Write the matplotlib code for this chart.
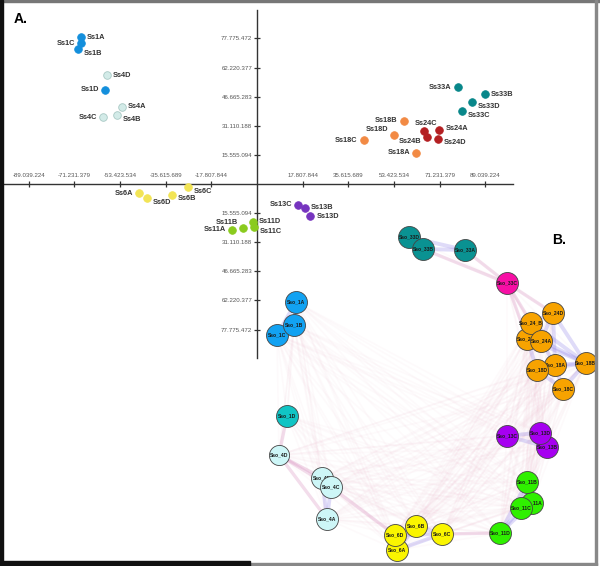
import numpy as np
import matplotlib
matplotlib.use("Agg")
import matplotlib.pyplot as plt
from matplotlib.patches import Rectangle

plt.rcParams['font.family'] = ['Liberation Sans', 'DejaVu Sans']

# ---------------- panel A : ordination scores ----------------
samples = ["Ss1A", "Ss1C", "Ss1B", "Ss1D",
           "Ss4D", "Ss4A", "Ss4B", "Ss4C",
           "Ss6A", "Ss6D", "Ss6B", "Ss6C",
           "Ss11A", "Ss11B", "Ss11D", "Ss11C",
           "Ss13C", "Ss13B", "Ss13D",
           "Ss33A", "Ss33B", "Ss33D", "Ss33C",
           "Ss18B", "Ss18D", "Ss18C", "Ss18A",
           "Ss24C", "Ss24A", "Ss24B", "Ss24D"]
axis1 = [-68.7, -68.6, -69.9, -59.1,
         -58.6, -52.7, -54.7, -59.9,
         -45.9, -43.0, -33.1, -27.0,
         -9.6, -5.3, -1.7, -1.2,
         16.1, 18.7, 20.7,
         78.2, 88.7, 84.0, 79.9,
         57.2, 53.4, 41.7, 62.1,
         65.2, 71.1, 66.2, 70.7]
axis2 = [78.4, 75.2, 72.2, 50.3,
         58.1, 41.2, 36.7, 35.7,
         -5.0, -7.7, -5.7, -1.8,
         -24.4, -23.4, -20.3, -23.2,
         -11.2, -12.7, -17.3,
         51.7, 48.0, 43.9, 39.0,
         33.7, 26.4, 23.4, 16.6,
         28.5, 28.7, 24.9, 24.2]

x_tick_step = 17.807844
y_tick_step = 15.555094
x_tick_labels = ["-89.039.224", "-71.231.379", "-53.423.534", "-35.615.689", "-17.807.844",
                 "17.807.844", "35.615.689", "53.423.534", "71.231.379", "89.039.224"]
y_tick_labels = ["77.775.472", "62.220.377", "46.665.283", "31.110.188", "15.555.094",
                 "15.555.094", "31.110.188", "46.665.283", "62.220.377", "77.775.472"]

site_colors = {"Ss1": "#148fdc", "Ss4": "#d3ebe8", "Ss6": "#f2e455", "Ss11": "#8acb1e",
               "Ss13": "#7634bf", "Ss18": "#f28a44", "Ss24": "#b41f22", "Ss33": "#08878a"}

# label placement: (dx, dy) in points, horizontal alignment
placement = {"r": (4.5, 0, "left"), "l": (-4.5, 0, "right"), "rb": (4, -3, "left"),
             "lb": (-4, -3, "right"), "la": (-4, 3.5, "right"), "t": (1, 5.5, "center"),
             "ra": (4.5, 1.5, "left")}
label_pos = {"Ss1A": "r", "Ss1C": "l", "Ss1B": "rb", "Ss1D": "l",
             "Ss4D": "r", "Ss4A": "r", "Ss4B": "rb", "Ss4C": "l",
             "Ss6A": "l", "Ss6D": "rb", "Ss6B": "rb", "Ss6C": "rb",
             "Ss11A": "l", "Ss11B": "la", "Ss11D": "r", "Ss11C": "rb",
             "Ss13C": "l", "Ss13B": "r", "Ss13D": "r",
             "Ss33A": "l", "Ss33B": "r", "Ss33D": "rb", "Ss33C": "rb",
             "Ss18B": "l", "Ss18D": "la", "Ss18C": "l", "Ss18A": "l",
             "Ss24C": "t", "Ss24A": "ra", "Ss24B": "lb", "Ss24D": "rb"}

# ---------------- panel B : network ----------------
nodes = ["Sso_1C", "Sso_1A", "Sso_1B", "Sso_1D",
         "Sso_4D", "Sso_4A", "Sso_4B", "Sso_4C",
         "Sso_6A", "Sso_6D", "Sso_6B", "Sso_6C",
         "Sso_11D", "Sso_11A", "Sso_11B", "Sso_11C",
         "Sso_13C", "Sso_13B", "Sso_13D",
         "Sso_18C", "Sso_18A", "Sso_18D", "Sso_18B",
         "Sso_24C", "Sso_24_B", "Sso_24A", "Sso_24D",
         "Sso_33C", "Sso_33A", "Sso_33D", "Sso_33B"]
node_group = ["1", "1", "1", "1D",
              "4", "4", "4", "4",
              "6", "6", "6", "6",
              "11", "11", "11", "11",
              "13", "13", "13",
              "18", "18", "18", "18",
              "24", "24", "24", "24",
              "33C", "33", "33", "33"]
# layout coordinates (as drawn)
layout_x = [12, 31, 29, 22,
            14, 62, 57, 66,
            132, 130, 151, 177,
            235, 267, 262, 256,
            242, 282, 275,
            298, 290, 272, 320.5,
            262, 266, 276, 288,
            242, 200, 144, 158]
layout_y = [110, 77, 100, 191,
            230, 294, 253, 262,
            325, 310, 301, 309,
            308, 278, 257, 283,
            211, 222, 207.5,
            164, 140, 145, 138,
            113.5, 97.5, 115.5, 88,
            58, 25, 12, 24]

group_colors = {"1": "#12a2f2", "1D": "#10c4c4", "4": "#cdf6f7", "6": "#faf500",
                "11": "#2ff000", "13": "#a600f0", "18": "#f7a300", "24": "#f7a300",
                "33": "#0a9292", "33C": "#f70fa5"}

strong_edges = [("Sso_1A", "Sso_1B"), ("Sso_1B", "Sso_1C"), ("Sso_1A", "Sso_1C"),
                ("Sso_4B", "Sso_4A"), ("Sso_4C", "Sso_4A"), ("Sso_4B", "Sso_4C"),
                ("Sso_6D", "Sso_6B"), ("Sso_6D", "Sso_6C"), ("Sso_6A", "Sso_6C"),
                ("Sso_6B", "Sso_6C"), ("Sso_6A", "Sso_6B"), ("Sso_6A", "Sso_6D"),
                ("Sso_11D", "Sso_11C"), ("Sso_11D", "Sso_11A"), ("Sso_11B", "Sso_11C"),
                ("Sso_11B", "Sso_11A"), ("Sso_11C", "Sso_11A"), ("Sso_11D", "Sso_11B"),
                ("Sso_13C", "Sso_13D"), ("Sso_13C", "Sso_13B"), ("Sso_13D", "Sso_13B"),
                ("Sso_24D", "Sso_24_B"), ("Sso_24D", "Sso_24A"), ("Sso_24D", "Sso_18B"),
                ("Sso_24A", "Sso_18B"), ("Sso_24_B", "Sso_18B"), ("Sso_18A", "Sso_18B"),
                ("Sso_18D", "Sso_18B"), ("Sso_18C", "Sso_18B"), ("Sso_24A", "Sso_18A"),
                ("Sso_24C", "Sso_18D"), ("Sso_24_B", "Sso_24A"), ("Sso_24C", "Sso_24A"),
                ("Sso_24C", "Sso_24_B"), ("Sso_18D", "Sso_18A"), ("Sso_18C", "Sso_18A"),
                ("Sso_18C", "Sso_18D"), ("Sso_24D", "Sso_18A"), ("Sso_24C", "Sso_18B"),
                ("Sso_33D", "Sso_33B"), ("Sso_33B", "Sso_33A"), ("Sso_33D", "Sso_33A")]
pink_edges = [("Sso_33A", "Sso_33C"), ("Sso_33B", "Sso_33C"), ("Sso_33C", "Sso_24_B"),
              ("Sso_33C", "Sso_24C"), ("Sso_33C", "Sso_24D"), ("Sso_4D", "Sso_4B"),
              ("Sso_4D", "Sso_4C"), ("Sso_4D", "Sso_4A"), ("Sso_1D", "Sso_4D"),
              ("Sso_6C", "Sso_11D"), ("Sso_4C", "Sso_6D")]
weak_links = [("1", "1D"), ("1", "4"), ("1D", "4"), ("1D", "6"), ("4", "6"), ("4", "11"),
              ("4", "13"), ("6", "11"), ("6", "13"), ("6", "18"), ("6", "24"), ("11", "13"),
              ("11", "18"), ("11", "24"), ("13", "18"), ("13", "24"), ("33", "33C"),
              ("33C", "24"), ("33C", "18"), ("1", "6"), ("1D", "11"), ("4", "18"),
              ("33C", "13"), ("1", "11"), ("1", "13")]


def main():
    fig = plt.figure(figsize=(6, 5.66), dpi=100)

    # ----- panel A -----
    ax = fig.add_axes([0, 1 - 358 / 566, 513 / 600, 348 / 566])
    ax.set_xlim(-100.2, 99.8)
    ax.set_ylim(-93, 93)
    for s in ["top", "right"]:
        ax.spines[s].set_visible(False)
    for s in ["left", "bottom"]:
        ax.spines[s].set_position(("data", 0))
        ax.spines[s].set_color("#333333")
        ax.spines[s].set_linewidth(1.0)

    k = np.array([-5, -4, -3, -2, -1, 1, 2, 3, 4, 5])
    xt = k * x_tick_step
    yt = -k * y_tick_step
    ax.set_xticks(xt)
    ax.set_xticklabels([])
    ax.set_yticks(yt)
    ax.set_yticklabels(y_tick_labels)
    ax.tick_params(axis="both", direction="inout", length=4.5, width=0.9, color="#333333")
    ax.tick_params(axis="y", labelsize=4.4, labelcolor="#555555", pad=1.2)
    for x, lab in zip(xt, x_tick_labels):
        ax.annotate(lab, (x, 0), xytext=(0, 5.8), textcoords="offset points",
                    ha="center", va="center", fontsize=4.4, color="#555555")

    for name, x, y in zip(samples, axis1, axis2):
        site = name[:-1]
        col = site_colors[site]
        edge = "#a8c8c4" if site == "Ss4" else col
        ax.scatter(x, y, s=30, color=col, edgecolors=edge, linewidths=0.6, zorder=3)
        dx, dy, ha = placement[label_pos[name]]
        ax.annotate(name, (x, y), xytext=(dx, dy), textcoords="offset points",
                    ha=ha, va="center", fontsize=5.3, fontweight="bold", color="#333333")

    # ----- panel B -----
    axb = fig.add_axes([265 / 600, 0, 335 / 600, 341 / 566])
    axb.set_xlim(0, 335)
    axb.set_ylim(341, 0)
    axb.set_axis_off()
    axb.patch.set_alpha(0)

    pos = {n: (x, y) for n, x, y in zip(nodes, layout_x, layout_y)}
    grp = dict(zip(nodes, node_group))

    # faint between-cluster links
    for g1, g2 in weak_links:
        for a in nodes:
            for b in nodes:
                if grp[a] == g1 and grp[b] == g2:
                    axb.plot([pos[a][0], pos[b][0]], [pos[a][1], pos[b][1]],
                             color="#e493b2", lw=1.2, alpha=0.045, zorder=1,
                             solid_capstyle="round")
    for a, b in pink_edges:
        axb.plot([pos[a][0], pos[b][0]], [pos[a][1], pos[b][1]],
                 color="#d890c0", lw=2.4, alpha=0.3, zorder=2, solid_capstyle="round")
    for a, b in strong_edges:
        axb.plot([pos[a][0], pos[b][0]], [pos[a][1], pos[b][1]],
                 color="#8c7ee8", lw=2.8, alpha=0.28, zorder=2, solid_capstyle="round")

    for i, n in enumerate(nodes):
        x, y = pos[n]
        size = 210 if n == "Sso_4D" else 250
        axb.scatter(x, y, s=size, color=group_colors[grp[n]], edgecolors="#444444",
                    linewidths=0.6, zorder=10 + 2 * i)
        axb.text(x, y, n, ha="center", va="center", fontsize=3.6, fontweight="bold",
                 color="#1a1a1a", zorder=11 + 2 * i)

    # panel letters
    fig.text(14 / 600, 1 - 19 / 566, "A.", fontsize=10, fontweight="bold", va="center")
    fig.text(552 / 600, 1 - 240.5 / 566, "B.", fontsize=10, fontweight="bold", va="center")

    # frame
    fig.patches.append(Rectangle((0, 1 - 1.5 / 566), 1, 1.5 / 566, transform=fig.transFigure,
                                 color="#777777", zorder=50))
    fig.patches.append(Rectangle((595 / 600, 0), 2 / 600, 1, transform=fig.transFigure,
                                 color="#888888", zorder=50))
    fig.patches.append(Rectangle((250 / 600, 1.5 / 566), 347 / 600, 1.5 / 566,
                                 transform=fig.transFigure, color="#888888", zorder=50))
    fig.patches.append(Rectangle((0, 0), 3 / 600, 1, transform=fig.transFigure,
                                 color="#111111", zorder=51))
    fig.patches.append(Rectangle((0, 0), 250 / 600, 5 / 566, transform=fig.transFigure,
                                 color="#111111", zorder=51))

    fig.savefig("out.png", dpi=100)


if __name__ == "__main__":
    main()
